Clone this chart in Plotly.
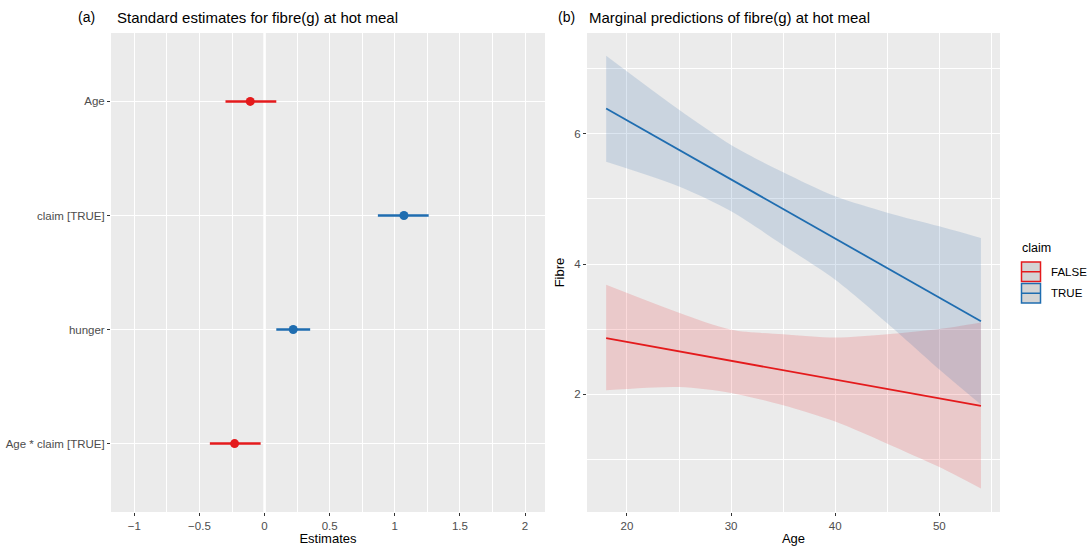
import plotly.graph_objects as go

# ---- Panel (a): standard estimates ----
terms = ["Age", "claim [TRUE]", "hunger", "Age * claim [TRUE]"]
estimates = [-0.11, 1.07, 0.22, -0.23]
ci_low = [-0.30, 0.87, 0.09, -0.42]
ci_high = [0.09, 1.26, 0.35, -0.03]
est_x_ticks = [-1, -0.5, 0, 0.5, 1, 1.5, 2]
est_x_labels = ["\u22121", "\u22120.5", "0", "0.5", "1", "1.5", "2"]

# ---- Panel (b): marginal predictions ----
ages = [18, 25, 30, 35, 40, 45, 50, 54]
true_upper = [7.20, 6.37, 5.83, 5.41, 5.04, 4.79, 4.58, 4.40]
true_lower = [5.57, 5.19, 4.81, 4.29, 3.76, 3.09, 2.38, 1.84]
false_upper = [3.68, 3.25, 2.99, 2.92, 2.87, 2.92, 3.00, 3.10]
false_lower = [2.06, 2.11, 2.02, 1.83, 1.58, 1.24, 0.88, 0.55]
line_ages = [18, 54]
true_line = [6.39, 3.12]
false_line = [2.86, 1.82]
legend_title = "claim"
legend_names = ["FALSE", "TRUE"]

RED = "#E41A1C"
BLUE = "#1F6DB0"
BG = "#EBEBEB"
FONT = "Liberation Sans, Arial, sans-serif"

fig = go.Figure()

# Panel (a)
for i, t in enumerate(terms):
    col = BLUE if estimates[i] >= 0 else RED
    fig.add_trace(go.Scatter(
        x=[estimates[i]], y=[t], mode="markers",
        marker=dict(color=col, size=9),
        error_x=dict(type="data", symmetric=False,
                     array=[ci_high[i] - estimates[i]],
                     arrayminus=[estimates[i] - ci_low[i]],
                     color=col, thickness=2.6, width=0),
        xaxis="x", yaxis="y", showlegend=False, hoverinfo="skip"))

# Panel (b) ribbons (lower boundary, then upper filled to it)
def ribbon(upper, lower, fillcol):
    lo = go.Scatter(x=ages, y=lower, mode="lines",
                    line=dict(width=0, shape="spline", smoothing=0.8),
                    xaxis="x2", yaxis="y2", showlegend=False, hoverinfo="skip")
    up = go.Scatter(x=ages, y=upper, mode="lines", fill="tonexty", fillcolor=fillcol,
                    line=dict(width=0, shape="spline", smoothing=0.8),
                    xaxis="x2", yaxis="y2", showlegend=False, hoverinfo="skip")
    return [lo, up]

for tr in ribbon(false_upper, false_lower, "rgba(228,26,28,0.16)"):
    fig.add_trace(tr)
for tr in ribbon(true_upper, true_lower, "rgba(55,110,170,0.18)"):
    fig.add_trace(tr)
fig.add_trace(go.Scatter(x=line_ages, y=false_line, mode="lines",
                         line=dict(color=RED, width=1.8),
                         xaxis="x2", yaxis="y2", showlegend=False))
fig.add_trace(go.Scatter(x=line_ages, y=true_line, mode="lines",
                         line=dict(color=BLUE, width=1.8),
                         xaxis="x2", yaxis="y2", showlegend=False))

ydom = [1 - 512 / 546, 1 - 33 / 546]
tickfont = dict(family=FONT, size=11.5, color="#4D4D4D")
grid_common = dict(showgrid=True, gridcolor="white", gridwidth=1.1,
                   zeroline=False, ticks="outside", ticklen=3, tickcolor="#333333",
                   tickwidth=1.1, tickfont=tickfont, showline=False)

# manual ggplot-style legend
shapes = [dict(type="line", xref="x", yref="paper", x0=0, x1=0,
               y0=ydom[0], y1=ydom[1], line=dict(color="white", width=2.5), layer="below")]
annotations = [
    dict(text="(a)", x=76 / 1090, y=1 - 17 / 546, xref="paper", yref="paper",
         xanchor="left", yanchor="middle", showarrow=False, font=dict(size=14, family=FONT)),
    dict(text="Standard estimates for fibre(g) at hot meal", x=115 / 1090, y=1 - 17 / 546,
         xref="paper", yref="paper", xanchor="left", yanchor="middle", showarrow=False,
         font=dict(size=15, family=FONT)),
    dict(text="(b)", x=556 / 1090, y=1 - 17 / 546, xref="paper", yref="paper",
         xanchor="left", yanchor="middle", showarrow=False, font=dict(size=14, family=FONT)),
    dict(text="Marginal predictions of fibre(g) at hot meal", x=587 / 1090, y=1 - 17 / 546,
         xref="paper", yref="paper", xanchor="left", yanchor="middle", showarrow=False,
         font=dict(size=15, family=FONT)),
    dict(text=legend_title, x=1020 / 1090, y=1 - 248 / 546, xref="paper", yref="paper",
         xanchor="left", yanchor="middle", showarrow=False, font=dict(size=12.5, family=FONT)),
]
for k, (name, col) in enumerate(zip(legend_names, [RED, BLUE])):
    top = 262 + k * 21.5
    bot = top + 19.5
    mid = (top + bot) / 2
    shapes.append(dict(type="rect", xref="paper", yref="paper",
                       x0=1021.5 / 1090, x1=1040.5 / 1090, y0=1 - bot / 546, y1=1 - top / 546,
                       fillcolor="#D4D4D4", line=dict(color=col, width=1.5)))
    shapes.append(dict(type="line", xref="paper", yref="paper",
                       x0=1021.5 / 1090, x1=1040.5 / 1090, y0=1 - mid / 546, y1=1 - mid / 546,
                       line=dict(color=col, width=1.5)))
    annotations.append(dict(text=name, x=1049 / 1090, y=1 - mid / 546, xref="paper", yref="paper",
                            xanchor="left", yanchor="middle", showarrow=False,
                            font=dict(size=11.5, family=FONT)))

fig.update_layout(
    width=1090, height=546,
    margin=dict(l=0, r=0, t=0, b=0),
    paper_bgcolor="white", plot_bgcolor=BG,
    font=dict(family=FONT, color="black"),
    showlegend=False,
    xaxis=dict(domain=[111 / 1090, 545 / 1090], range=[-1.179, 2.153],
               tickvals=est_x_ticks, ticktext=est_x_labels,
               minor=dict(dtick=0.25, tick0=0, showgrid=True, gridcolor="white", gridwidth=0.5, ticks=""),
               title=dict(text="Estimates", font=dict(size=13, family=FONT), standoff=3),
               anchor="y", **grid_common),
    yaxis=dict(domain=ydom, type="category", categoryorder="array", categoryarray=terms,
               range=[3.6, -0.6], anchor="x", **grid_common),
    xaxis2=dict(domain=[587 / 1090, 1000 / 1090], range=[16.16, 55.83],
                tickvals=[20, 30, 40, 50],
                minor=dict(dtick=5, tick0=0, showgrid=True, gridcolor="white", gridwidth=0.5, ticks=""),
                title=dict(text="Age", font=dict(size=13, family=FONT), standoff=3),
                anchor="y2", **grid_common),
    yaxis2=dict(domain=ydom, range=[0.19, 7.55], tickvals=[2, 4, 6],
                minor=dict(dtick=1, tick0=0, showgrid=True, gridcolor="white", gridwidth=0.5, ticks=""),
                title=dict(text="Fibre", font=dict(size=13, family=FONT), standoff=6),
                anchor="x2", **grid_common),
    shapes=shapes,
    annotations=annotations,
)

fig.write_html("out.html")
